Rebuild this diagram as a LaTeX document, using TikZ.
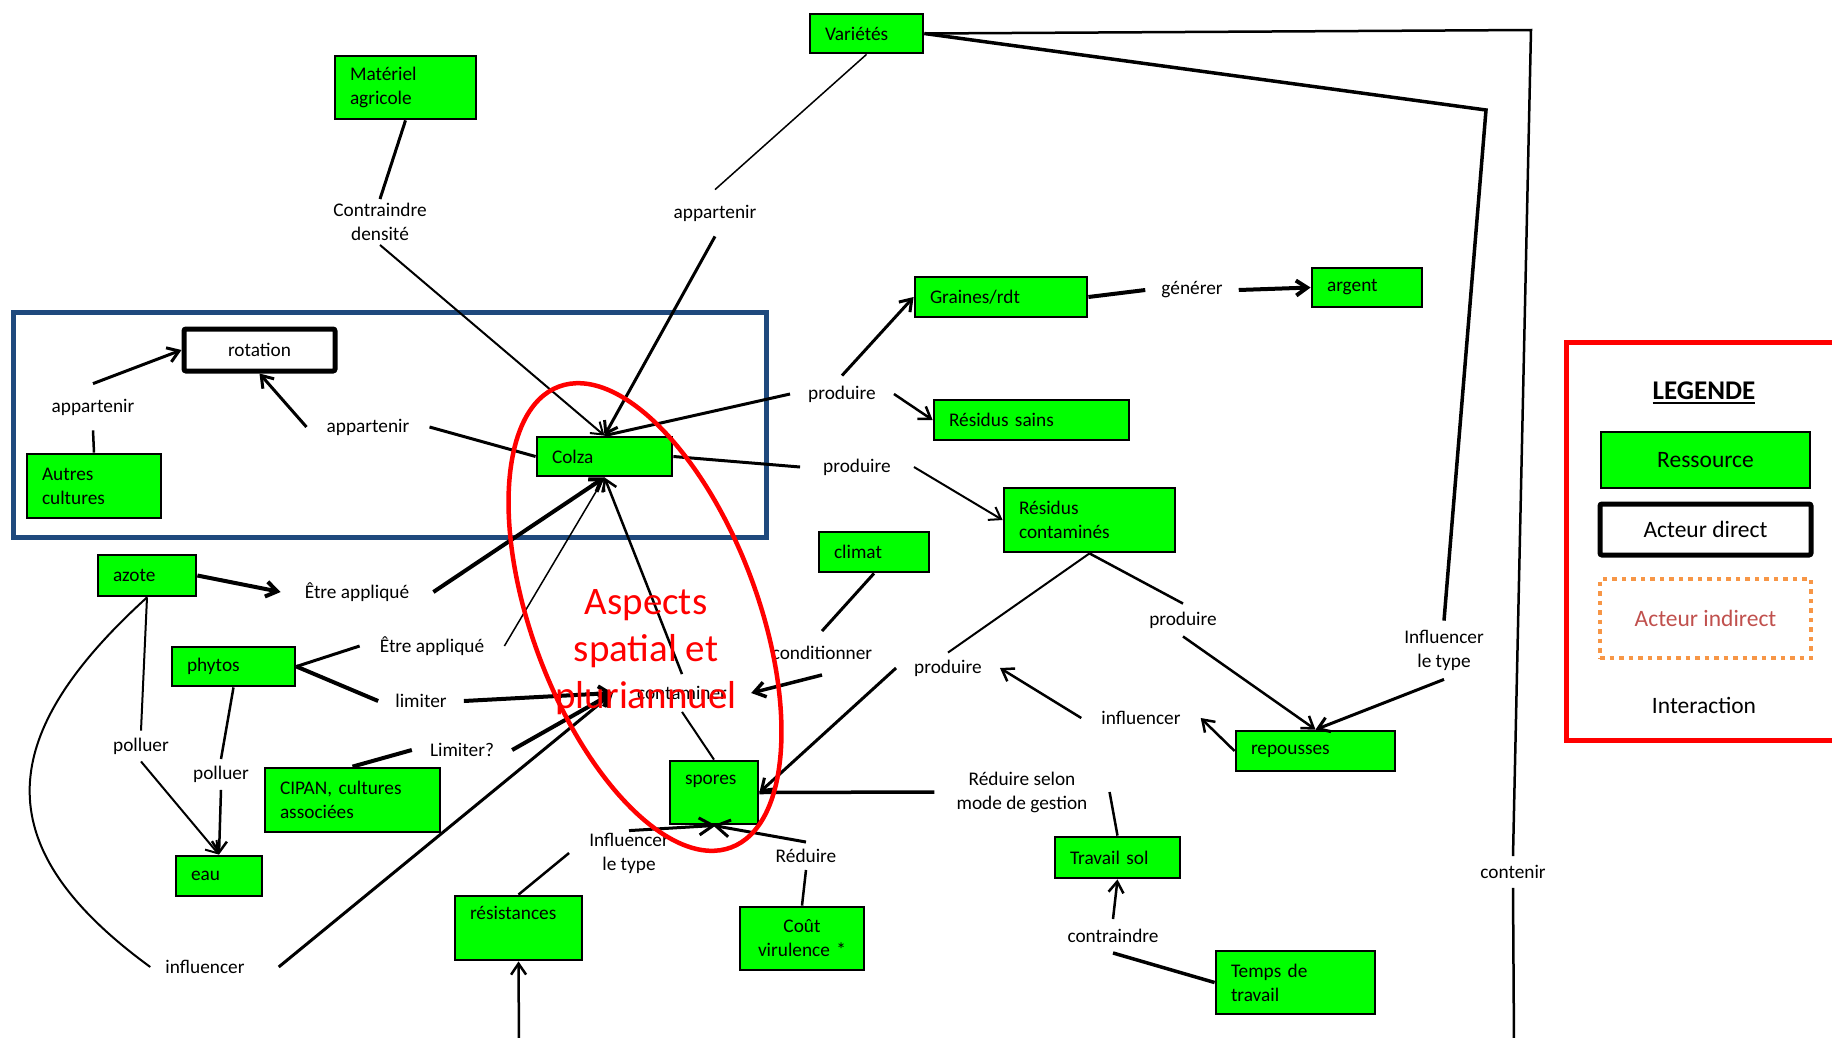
\documentclass[tikz,border=0pt]{standalone}
\usepackage{fontspec}
\setmainfont{Carlito}
\usepackage{tikz}
\usetikzlibrary{arrows.meta,shapes.geometric}
\definecolor{vert}{RGB}{0,255,0}
\definecolor{bleucadre}{RGB}{31,73,125}
\definecolor{orangeleg}{RGB}{247,150,70}
\definecolor{rougeleg}{RGB}{192,80,77}
\newcommand{\souligne}[1]{\setbox0\hbox{#1}\rlap{\rule[-4pt]{\wd0}{2pt}}\box0}

\begin{document}
\begin{tikzpicture}[x=1pt, y=-1pt, font=\fontsize{19.3}{24}\selectfont,
  ressource/.style={draw, fill=vert, line width=2.8pt, inner xsep=15pt, inner ysep=4pt, align=left},
  acteur/.style={draw, fill=white, line width=5pt, rounded corners=2pt},
  inter/.style={inner xsep=7pt, inner ysep=7pt, align=center},
  legtxt/.style={font=\fontsize{23.5}{28}\selectfont},
  lien/.style={line width=#1}, lien/.default=2.5pt,
  fleche/.style={line width=#1, -{Straight Barb[length=11pt,width=15pt]}}, fleche/.default=2.5pt]
  \useasboundingbox (0,0) rectangle (1832,1037);
  \clip (0,0) rectangle (1832,1037);

  \node[draw=bleucadre, line width=5pt, minimum width=753pt, minimum height=225pt] (cadre) at (389.5,424.5) {};

  \node[ressource, text width=83pt, minimum height=39pt] (var) at (866.5,33.5) {Variétés};
  \node[ressource, text width=111pt, minimum height=63pt] (mat) at (405.5,87.5) {Matériel\\agricole};
  \node[ressource, text width=142pt, minimum height=40pt] (graines) at (1001,297) {Graines/rdt};
  \node[ressource, text width=80pt, minimum height=39pt] (argent) at (1367,287.5) {argent};
  \node[ressource, text width=165pt, minimum height=40pt] (ressains) at (1031.5,420) {Résidus sains};
  \node[ressource, text width=105pt, minimum height=39pt] (colza) at (604.5,456.5) {Colza};
  \node[acteur, minimum width=151pt, minimum height=42pt] (rotation) at (259.5,350) {rotation};
  \node[ressource, text width=104pt, minimum height=64pt] (autres) at (94,486) {Autres\\cultures};
  \node[ressource, text width=141pt, minimum height=64pt] (rescont) at (1089.5,520) {Résidus\\contaminés};
  \node[ressource, text width=80pt, minimum height=40pt] (climat) at (874,552) {climat};
  \node[ressource, text width=68pt, minimum height=41pt] (azote) at (147,575.5) {azote};
  \node[ressource, text width=93pt, minimum height=39pt] (phytos) at (233.5,666.5) {phytos};
  \node[ressource, text width=145pt, minimum height=64pt] (cipan) at (352.5,800) {CIPAN, cultures\\associées};
  \node[ressource, text width=58pt, minimum height=63pt, text height=19pt, text depth=36pt] (spores) at (714,792.5) {spores};
  \node[ressource, text width=129pt, minimum height=40pt] (repousses) at (1315.5,751) {repousses};
  \node[ressource, text width=56pt, minimum height=40pt] (eau) at (219,876) {eau};
  \node[ressource, text width=95pt, minimum height=41pt] (travail) at (1117.5,857.5) {Travail sol};
  \node[ressource, text width=97pt, minimum height=64pt, text height=19pt, text depth=37pt] (resist) at (518.5,928) {résistances};
  \node[ressource, text width=94pt, minimum height=63pt, align=center] (cout) at (802,938.5) {Coût\\virulence *};
  \node[ressource, text width=129pt, minimum height=63pt] (temps) at (1295.5,982.5) {Temps de\\travail};

  \node[inter, inner ysep=4pt] (contr) at (380,222) {Contraindre\\densité};
  \node[inter, inner ysep=15pt] (app1) at (715,213) {appartenir};
  \node[inter, inner ysep=15pt] (app2) at (93,407) {appartenir};
  \node[inter, inner xsep=20pt] (app3) at (368,427) {appartenir};
  \node[inter, inner xsep=18pt, inner ysep=10pt] (prod1) at (842,394) {produire};
  \node[inter, inner xsep=23pt] (prod2) at (857,467) {produire};
  \node[inter, inner xsep=16pt] (gen) at (1192,290) {générer};
  \node[inter, inner xsep=24pt] (etre1) at (357,592) {Être appliqué};
  \node[inter, inner xsep=20pt] (etre2) at (432,646) {Être appliqué};
  \node[inter, inner xsep=17pt] (lim) at (421,701) {limiter};
  \node[inter, inner xsep=18pt] (limq) at (462,750) {Limiter?};
  \node[inter, inner xsep=24pt, inner ysep=12pt] (contam) at (682,693) {contaminer};
  \node[inter, inner ysep=15pt] (cond) at (822,653) {conditionner};
  \node[inter, inner xsep=18pt] (prod3) at (948,668) {produire};
  \node[inter, inner ysep=8pt] (prod4) at (1183,620) {produire};
  \node[inter, inner xsep=20pt] (infl1) at (1141,718) {influencer};
  \node[inter, inner ysep=9pt] (infltype1) at (1444,650) {Influencer\\le type};
  \node[inter] (poll1) at (141,746) {polluer};
  \node[inter] (poll2) at (221,774.5) {polluer};
  \node[inter, inner xsep=22pt] (redsel) at (1022,792) {Réduire selon\\mode de gestion};
  \node[inter, inner xsep=20pt, inner ysep=2pt] (infltype2) at (629,853) {Influencer\\le type};
  \node[inter] (red) at (806,856) {Réduire};
  \node[inter, inner ysep=10pt] (contr2) at (1113,936) {contraindre};
  \node[inter, inner ysep=9pt] (cont) at (1513,872) {contenir};
  \node[inter, inner xsep=15pt] (infl2) at (205,967) {influencer};

  \coordinate (coinA) at (1531,30);
  \coordinate (coinB) at (1486,110);
  \coordinate (basA) at (1514,1045);
  \coordinate (basB) at (519,1045);

  \draw[lien=3pt] (mat.south) -- (contr.north);
  \draw[fleche=2pt] (contr.south) -- (colza.north);
  \draw[lien=1.5pt] (var.south) -- (app1.north);
  \draw[fleche=3pt] (app1.south) -- (colza.north);
  \draw[lien=2.5pt] (var.east) -- (coinA) -- (cont.north);
  \draw[lien=2.5pt] (cont.south) -- (basA);
  \draw[lien=3.5pt] (var.east) -- (coinB) -- (infltype1.north);
  \draw[fleche=3pt] (infltype1.south) -- (repousses.north);

  \draw[fleche=3pt] (app2.north) -- (rotation.west);
  \draw[lien=2.5pt] (autres.north) -- (app2.south);
  \draw[lien=3pt] (colza.west) -- (app3.east);
  \draw[fleche=3pt] (app3.west) -- (rotation.south);

  \draw[lien=3pt] (prod1.west) -- (colza.north);
  \draw[fleche=3pt] (prod1.north) -- (graines.west);
  \draw[fleche=2.5pt] (prod1.east) -- (ressains.west);
  \draw[lien=3pt] (colza.east) -- (prod2.west);
  \draw[fleche=2pt] (prod2.east) -- (rescont.west);
  \draw[lien=4pt] (graines.east) -- (gen.west);
  \draw[fleche=4pt] (gen.east) -- (argent.west);

  \draw[fleche=4pt] (azote.east) -- (etre1.west);
  \draw[fleche=4pt] (etre1.east) -- (colza.south);
  \draw[lien=3pt] (phytos.east) -- (etre2.west);
  \draw[fleche=1.5pt] (etre2.east) -- (colza.south);
  \draw[lien=4pt] (phytos.east) -- (lim.west);
  \draw[fleche=4pt] (lim.east) -- (contam.west);
  \draw[lien=4pt] (cipan.north) -- (limq.west);
  \draw[fleche=4pt] (limq.east) -- (contam.west);
  \draw[fleche=3pt] ([xshift=19pt]infl2.east) -- (contam.west);
  \draw[lien=2pt] (azote.south) .. controls (-10,740) and (-10,850) .. (infl2.west);
  \draw[lien=2pt] (azote.south) -- (poll1.north);
  \draw[fleche=2pt] (poll1.south) -- (eau.north);
  \draw[lien=2.5pt] (phytos.south) -- (poll2.north);
  \draw[fleche=2.5pt] (poll2.south) -- (eau.north);

  \draw[lien=2pt] (spores.north) -- (contam.south);
  \draw[fleche=2.5pt] (contam.north) -- (colza.south);
  \draw[lien=3pt] (climat.south) -- (cond.north);
  \draw[fleche=3.5pt] (cond.south) -- (contam.east);
  \draw[lien=2pt] (rescont.south) -- (prod3.north);
  \draw[fleche=3pt] (prod3.west) -- (spores.east);
  \draw[lien=2.5pt] (rescont.south) -- (prod4.north);
  \draw[fleche=2.5pt] (prod4.south) -- (repousses.north);
  \draw[fleche=2.5pt] (repousses.west) -- (infl1.east);
  \draw[fleche=2.5pt] (infl1.west) -- (prod3.east);
  \draw[lien=3.5pt] (redsel.west) -- (spores.east);
  \draw[lien=2.5pt] (travail.north) -- (redsel.east);
  \draw[lien=3.5pt] (temps.west) -- (contr2.south);
  \draw[fleche=2.5pt] (contr2.north) -- (travail.south);
  \draw[lien=2.5pt] (resist.north) -- (infltype2.west);
  \draw[fleche=3pt, -{Straight Barb[length=14pt,width=17pt]}] (infltype2.north) -- ([xshift=2pt]spores.south);
  \draw[fleche=3pt, -{Straight Barb[length=14pt,width=17pt]}] (red.north) -- ([xshift=-1pt]spores.south);
  \draw[lien=2.5pt] (cout.north) -- (red.south);
  \draw[fleche=2.5pt] (basB) -- (resist.south);

  \node[draw=red, line width=4.5pt, ellipse, rotate=20.5, inner sep=0pt, minimum width=226pt, minimum height=492pt] (ovale) at (645,617) {};
  \node[text=red, font=\fontsize{39}{47}\selectfont, align=center] (aspects) at (646,652) {Aspects\\spatial et\\pluriannuel};

  \node[draw=red, line width=4.5pt, minimum width=300pt, minimum height=398pt, anchor=north west] (legende) at (1564,340) {};
  \node[font=\fontsize{27}{32}\selectfont\bfseries] (titre) at (1704,393) {\souligne{LEGENDE}};
  \node[draw, fill=vert, line width=2pt, minimum width=209pt, minimum height=56pt, legtxt] (legres) at (1705.5,460) {Ressource};
  \node[acteur, minimum width=211pt, minimum height=51pt, legtxt] (legdir) at (1705.5,529.5) {Acteur direct};
  \node[draw=orangeleg, line width=4.5pt, dash pattern=on 4.5pt off 5pt, minimum width=211pt, minimum height=79pt, text=rougeleg, legtxt] (legind) at (1705.5,618.5) {Acteur indirect};
  \node[legtxt] (leginter) at (1704,705) {Interaction};
\end{tikzpicture}
\end{document}
